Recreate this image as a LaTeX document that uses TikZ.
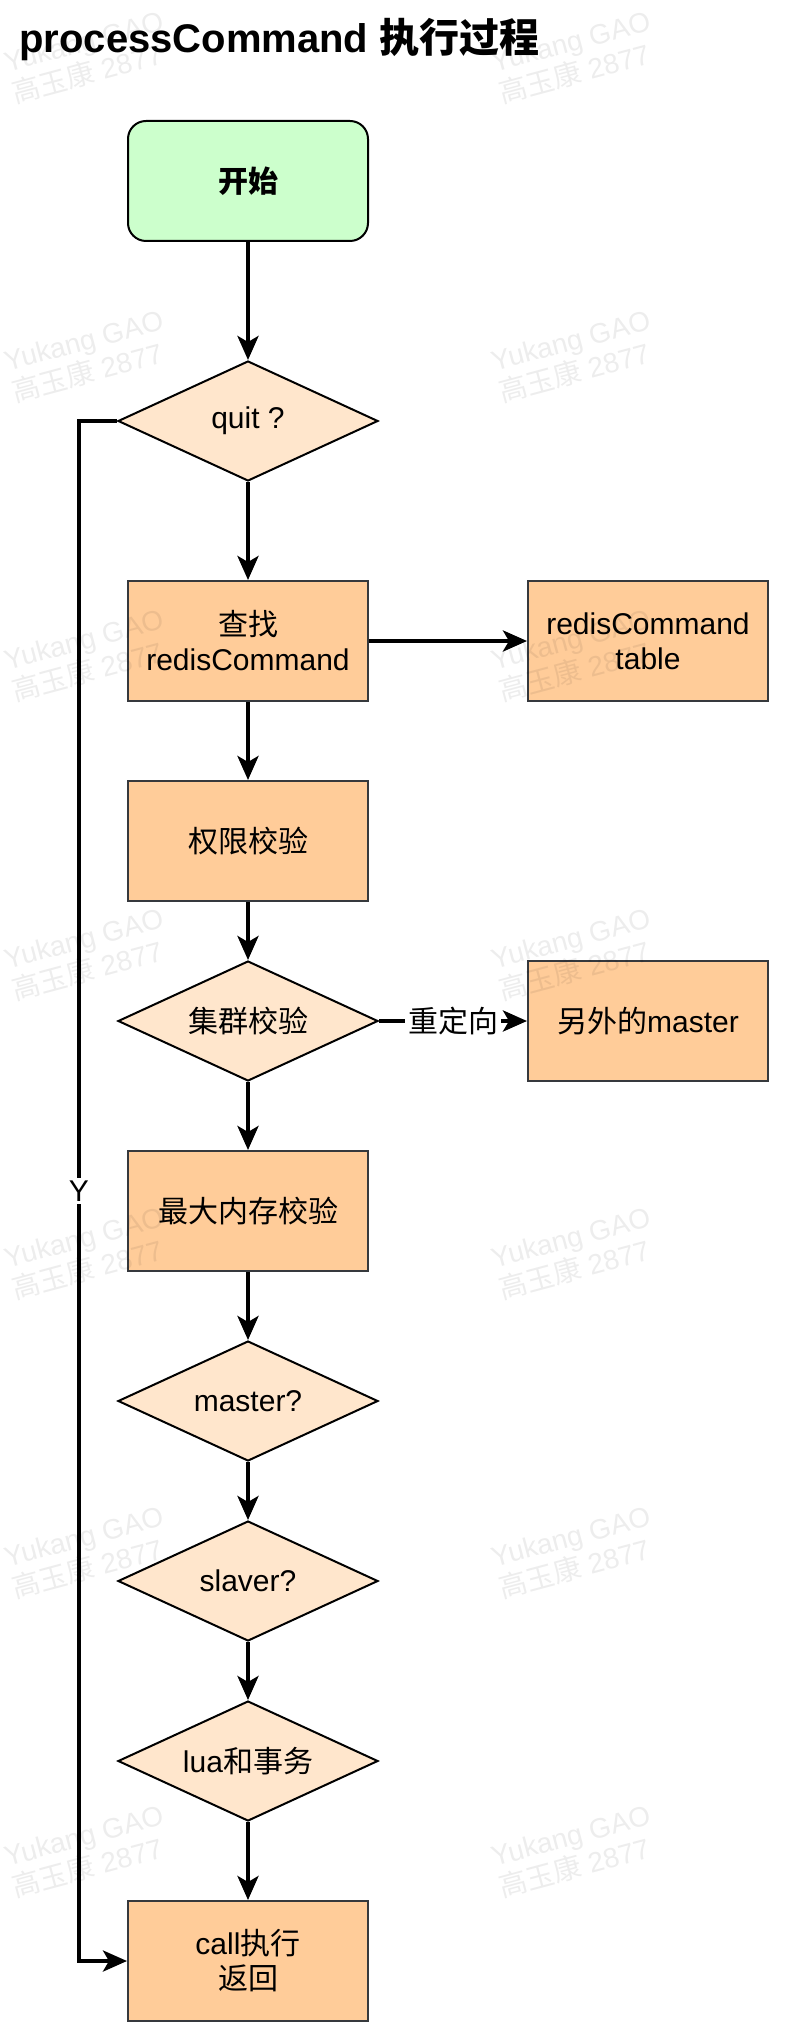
\documentclass[tikz,border=0pt]{standalone}
\usepackage{fontspec}
\setmainfont{Liberation Sans}
\newfontfamily\cjkfont{Noto Sans CJK SC}
\newcommand{\zh}[1]{{\cjkfont #1}}
\newcommand{\nodefont}{\fontsize{15}{17.5}\selectfont}
\usepackage{tikz}
\usetikzlibrary{shapes.geometric, arrows.meta, positioning}
\definecolor{StartGreen}{HTML}{CCFFCC}
\definecolor{StepOrange}{HTML}{FFCC99}
\definecolor{StepBorder}{HTML}{36393D}
\definecolor{CheckPeach}{HTML}{FFE6CC}
\tikzset{
  startbox/.style={rectangle, rounded corners=9pt, draw=black, fill=StartGreen, line width=1pt, minimum width=120pt, minimum height=60pt, font=\nodefont\bfseries, align=center},
  stepbox/.style={rectangle, draw=StepBorder, fill=StepOrange, line width=1pt, minimum width=120pt, minimum height=60pt, font=\nodefont, align=center},
  checkdiamond/.style={diamond, aspect=2.17, draw=black, fill=CheckPeach, line width=1pt, minimum width=130pt, minimum height=60pt, inner sep=2pt, font=\nodefont, align=center},
  flowarrow/.style={-{Stealth[length=12pt, width=10.5pt, inset=3pt]}, line width=2pt, black},
  edgelabel/.style={fill=white, inner sep=1.5pt, font=\nodefont},
  watermark/.style={rotate=15, align=left, text=black, text opacity=0.07, font=\fontsize{14}{16}\selectfont}
}

\begin{document}
\begin{tikzpicture}[x=0.5pt, y=-0.5pt]
  \fill[white] (0,0) rectangle (785,2037);
  \useasboundingbox (0,0) rectangle (785,2037);

  \node[anchor=base west, inner sep=0pt, font=\fontsize{20}{24}\selectfont\bfseries] (title) at (19,53) {processCommand \zh{执行过程}};

  % main column
  \node[startbox] (start) at (248,181) {\zh{开始}};
  \node[checkdiamond] (quit) at (248,421) {quit ?};
  \node[stepbox] (find) at (248,641) {\zh{查找}\\redisCommand};
  \node[stepbox] (cmdtable) at (648,641) {redisCommand\\table};
  \node[stepbox] (auth) at (248,841) {\zh{权限校验}};
  \node[checkdiamond] (cluster) at (248,1021) {\zh{集群校验}};
  \node[stepbox] (othermaster) at (648,1021) {\zh{另外的}master};
  \node[stepbox] (maxmem) at (248,1211) {\zh{最大内存校验}};
  \node[checkdiamond] (ismaster) at (248,1401) {master?};
  \node[checkdiamond] (isslave) at (248,1581) {slaver?};
  \node[checkdiamond] (luamulti) at (248,1761) {lua\zh{和事务}};
  \node[stepbox] (callret) at (248,1961) {call\zh{执行}\\\zh{返回}};

  % connectors
  \draw[flowarrow] (start) -- (quit);
  \draw[flowarrow] (quit) -- (find);
  \draw[flowarrow] (find) -- (cmdtable);
  \draw[flowarrow] (find) -- (auth);
  \draw[flowarrow] (auth) -- (cluster);
  \draw[flowarrow] (cluster) -- node[edgelabel] {\zh{重定向}} (othermaster);
  \draw[flowarrow] (cluster) -- (maxmem);
  \draw[flowarrow] (maxmem) -- (ismaster);
  \draw[flowarrow] (ismaster) -- (isslave);
  \draw[flowarrow] (isslave) -- (luamulti);
  \draw[flowarrow] (luamulti) -- (callret);
  \draw[flowarrow] (quit.west) -- ++(-38,0) |- node[pos=0.25, edgelabel] {Y} (callret.west);

  % watermark
  \foreach \wy in {58,357,656,955,1254,1553,1852}
    \foreach \wx in {88,575}
      \node[watermark] (wm-\wx-\wy) at (\wx,\wy) {Yukang GAO\\\zh{高玉康} 2877};
\end{tikzpicture}
\end{document}
